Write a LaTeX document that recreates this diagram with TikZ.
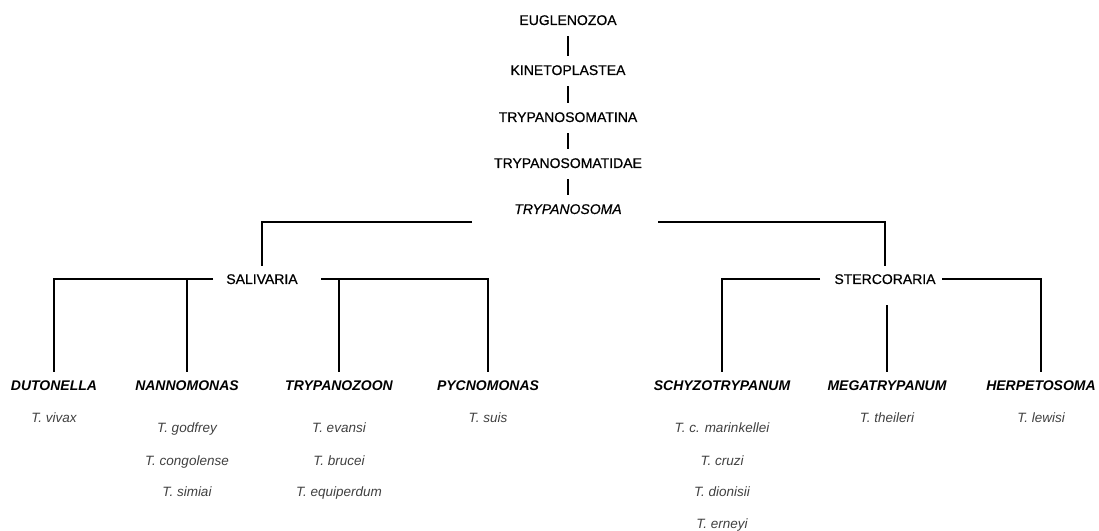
\documentclass[tikz,border=0pt]{standalone}
\usepackage{fontspec}
\setmainfont{Liberation Sans}
\newfontfamily\rankfont[FakeBold=0.6]{Liberation Sans}
\begin{document}
\begin{tikzpicture}[x=1bp,y=-1bp,
  lbl/.style={inner sep=0pt, anchor=base},
  rank/.style={lbl, font=\rankfont\fontsize{14bp}{16bp}\selectfont},
  rankit/.style={lbl, font=\rankfont\fontsize{14bp}{16bp}\selectfont\itshape},
  genus/.style={lbl, font=\fontsize{14bp}{16bp}\selectfont\bfseries\itshape},
  sp/.style={lbl, text=black!75, font=\fontsize{13.5bp}{16bp}\selectfont\itshape},
  ln/.style={line width=1.4bp, black},
  vl/.style={ln, shorten <=11bp, shorten >=9bp}]
\useasboundingbox (0,0) rectangle (1099,531);

% main ranks
\node[rank] (eug) at (568,25) {EUGLENOZOA};
\node[rank] (kin) at (568,75) {KINETOPLASTEA};
\node[rank] (tna) at (568,122) {TRYPANOSOMATINA};
\node[rank] (tdae) at (568,168) {TRYPANOSOMATIDAE};
\node[rankit] (tsoma) at (568,214) {TRYPANOSOMA};
\draw[vl] (eug.south) -- (kin.north);
\draw[vl] (kin.south) -- (tna.north);
\draw[vl] (tna.south) -- (tdae.north);
\draw[vl] (tdae.south) -- (tsoma.north);

% subgenera
\node[rank] (sal) at (262,284) {SALIVARIA};
\node[rank] (ster) at (885,284) {STERCORARIA};
\coordinate (bl) at (472,222);
\coordinate (br) at (658,222);
\draw[ln, shorten >=8bp] (bl) -| (sal.north);
\draw[ln, shorten >=8bp] (br) -| (ster.north);

% genera
\node[genus] (dut) at (54,390) {DUTONELLA};
\node[genus] (nan) at (187,390) {NANNOMONAS};
\node[genus] (tzo) at (339,390) {TRYPANOZOON};
\node[genus] (pyc) at (488,390) {PYCNOMONAS};
\node[genus] (sch) at (722,390) {SCHYZOTRYPANUM};
\node[genus] (meg) at (887,390) {MEGATRYPANUM};
\node[genus] (her) at (1041,390) {HERPETOSOMA};

\coordinate (sl) at (213,279);
\coordinate (sr) at (321,279);
\coordinate (tl) at (820,279);
\coordinate (tr) at (942,279);
\draw[ln, shorten >=8bp] (sl) -| (dut.north);
\draw[ln, shorten >=8bp] (nan.north |- sl) -- (nan.north);
\draw[ln, shorten >=8bp] (sr) -| (pyc.north);
\draw[ln, shorten >=8bp] (tzo.north |- sr) -- (tzo.north);
\draw[ln, shorten >=8bp] (tl) -| (sch.north);
\draw[ln, shorten >=8bp] (tr) -| (her.north);
\draw[ln, shorten <=21bp, shorten >=8bp] (meg.north |- ster.south) -- (meg.north);

% species
\node[sp] (viv) at (54,422) {T. vivax};
\node[sp] (god) at (187,432) {T. godfrey};
\node[sp] (con) at (187,465) {T. congolense};
\node[sp] (sim) at (187,496) {T. simiai};
\node[sp] (eva) at (339,432) {T. evansi};
\node[sp] (bru) at (339,465) {T. brucei};
\node[sp] (equ) at (339,496) {T. equiperdum};
\node[sp] (sui) at (488,422) {T. suis};
\node[sp] (mar) at (722,432) {T. c. marinkellei};
\node[sp] (cru) at (722,465) {T. cruzi};
\node[sp] (dio) at (722,496) {T. dionisii};
\node[sp] (ern) at (722,528) {T. erneyi};
\node[sp] (the) at (887,422) {T. theileri};
\node[sp] (lew) at (1041,422) {T. lewisi};
\end{tikzpicture}
\end{document}
